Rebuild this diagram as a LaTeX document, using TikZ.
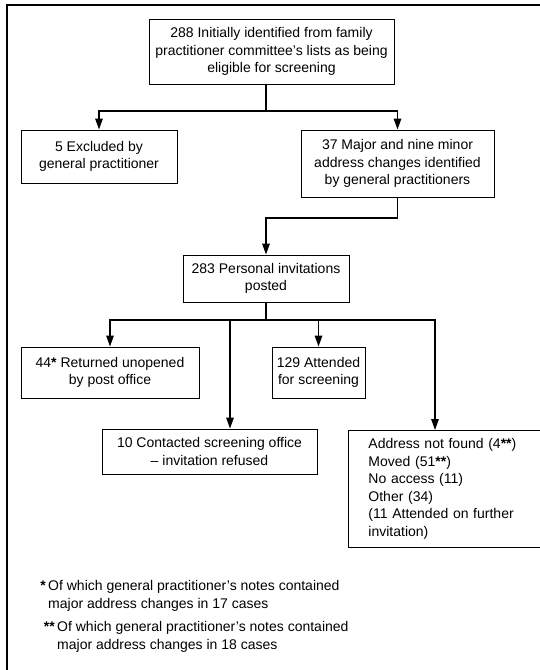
\documentclass[tikz,border=0pt]{standalone}
\usepackage{fontspec}
\setmainfont{Liberation Sans}
\usetikzlibrary{arrows.meta}
\newcommand\fnstar{\textbf{*}}

\begin{document}
\begin{tikzpicture}[x=1pt,y=-1pt,
    every node/.style={font=\fontsize{14}{17.5}\selectfont},
    box/.style={draw,line width=0.9pt,align=center,inner sep=0pt},
    arr/.style={line width=1.4pt,-{Triangle[length=11pt,width=7.5pt]}}]
  \useasboundingbox (0,0) rectangle (540,670);
  % frame
  \draw[line width=1.1pt] (548,5) -- (7,5) -- (7,678);
  % first level
  \node[box,minimum width=245pt,minimum height=65pt] (top) at (271.5,51.5)
    {288 Initially identified from family\\practitioner committee’s lists as being\\eligible for screening};
  \node[box,minimum width=156pt,minimum height=53pt] (excl) at (99,156.5)
    {5 Excluded by\\general practitioner};
  \node[box,minimum width=193pt,minimum height=67pt] (addr) at (397.5,163.5)
    {37 Major and nine minor\\address changes identified\\by general practitioners};
  \coordinate (split1) at (266,111);
  \draw[line width=1.4pt] (top.south -| split1) -- (split1);
  \draw[arr] (split1) -| (excl.north);
  \draw[arr] (split1) -| (addr.north);
  % invitations
  \node[box,minimum width=166pt,minimum height=47pt] (posted) at (266,278.5)
    {283 Personal invitations\\posted};
  \coordinate (bend) at (397.5,218);
  \draw[arr] (addr.south) -- (bend) -| (posted.north);
  % outcomes
  \node[box,minimum width=178pt,minimum height=51pt] (ret) at (110,372.5)
    {44\fnstar\ Returned unopened\\by post office};
  \node[box,minimum width=93pt,minimum height=51pt] (attended) at (318.5,372.5)
    {129 Attended\\for screening};
  \node[box,minimum width=215pt,minimum height=45pt] (contacted) at (209.5,451.5)
    {10 Contacted screening office\\-- invitation refused};
  \node[box,anchor=north west,align=left,text width=180pt,inner xsep=20pt,minimum height=117pt] (outcome) at (348,430)
    {Address not found (4\fnstar\fnstar)\\Moved (51\fnstar\fnstar)\\No access (11)\\Other (34)\\(11 Attended on further\\invitation)};
  \coordinate (split2) at (266,320);
  \coordinate (drop2) at (230,320);
  \coordinate (drop4) at (435,320);
  \draw[line width=1.4pt] (posted.south) -- (split2);
  \draw[arr] (split2) -| (ret.north);
  \draw[arr] (split2) -| (contacted.north -| drop2);
  \draw[arr] (split2) -| (attended.north);
  \draw[arr] (split2) -| (outcome.north -| drop4);
  % footnotes
  \node[anchor=west,align=left,inner sep=0pt] (note1) at (48,596)
    {\llap{\fnstar\,}Of which general practitioner’s notes contained\\major address changes in 17 cases};
  \node[anchor=west,align=left,inner sep=0pt] (note2) at (57,637)
    {\llap{\fnstar\fnstar\,}Of which general practitioner’s notes contained\\major address changes in 18 cases};
\end{tikzpicture}
\end{document}
